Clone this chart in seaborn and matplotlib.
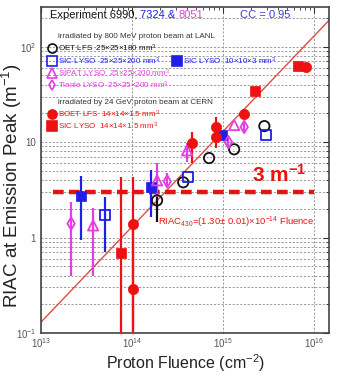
import matplotlib
matplotlib.use("Agg")
import matplotlib.pyplot as plt
import seaborn as sns
import numpy as np
from matplotlib.ticker import FixedLocator, FixedFormatter, NullFormatter

# ---- LANL, 800 MeV protons ----
oet_lfs_x = [1.88e14, 3.64e14, 7.0e14, 1.32e15, 2.83e15]
oet_lfs_y = [2.45, 3.79, 6.8, 8.4, 14.7]
oet_lfs_lo = [1.0, 0, 0, 0, 0]
oet_lfs_hi = [1.0, 0, 0, 0, 0]

sic_big_x = [5.05e13, 4.12e14, 2.97e15]
sic_big_y = [1.71, 4.28, 11.9]
sic_big_lo = [1.0, 0, 0]
sic_big_hi = [0.95, 0, 0]

sic_thin_x = [2.75e13, 1.62e14, 9.75e14]
sic_thin_y = [2.70, 3.36, 11.9]
sic_thin_lo = [1.75, 1.7, 0]
sic_thin_hi = [1.75, 1.7, 0]

sipat_x = [3.73e13, 1.88e14, 4.02e14, 1.32e15]
sipat_y = [1.34, 3.98, 8.2, 15.1]
sipat_lo = [0.94, 1.34, 2.05, 0]
sipat_hi = [0.68, 2.0, 1.55, 0]

tianle_x = [2.14e13, 2.43e14, 1.14e15, 1.70e15]
tianle_y = [1.40, 3.88, 10.0, 14.4]
tianle_lo = [1.0, 0.52, 1.0, 1.5]
tianle_hi = [0.94, 0.84, 1.2, 1.5]

# ---- CERN, 24 GeV protons ----
boet_x = [1.03e14, 1.03e14, 4.56e14, 8.4e14, 8.4e14, 1.70e15, 8.2e15]
boet_y = [0.29, 1.40, 9.8, 14.4, 11.3, 19.7, 61.6]
boet_lo = [0.29, 1.40, 3.8, 3.0, 2.65, 2.0, 0]
boet_hi = [1.0, 2.9, 2.9, 3.9, 0, 2.6, 0]

sic_cern_x = [7.57e13, 2.25e15, 6.67e15]
sic_cern_y = [0.695, 34.4, 63.0]
sic_cern_lo = [0.695, 0, 0]
sic_cern_hi = [3.6, 0, 0]

# fit RIAC_430 = slope x fluence, and the 3 m^-1 reference level
fit_slope = 1.30e-14
threshold = 3.0

RED = "#ee1111"
BLUE = "#1f1fe6"
MAG = "#e53de5"
BLACK = "#111111"

sns.set_style("white")
plt.rcParams["font.family"] = ["Liberation Sans", "DejaVu Sans"]
plt.rcParams["mathtext.fontset"] = "custom"
plt.rcParams["mathtext.rm"] = "Liberation Sans"
plt.rcParams["mathtext.it"] = "Liberation Sans:italic"
plt.rcParams["mathtext.bf"] = "Liberation Sans:bold"

fig = plt.figure(figsize=(3.6, 3.75), dpi=100)
ax = fig.add_axes([41 / 360, 1 - 333 / 375, 288 / 360, 326 / 375])
ax.set_xscale("log")
ax.set_yscale("log")
XMIN, XMAX = 1e13, 1.45e16
YMIN, YMAX = 0.1, 260

# grid: y major + minor, x major only
ax.grid(which="major", axis="both", color="#8a8a8a", lw=0.6, ls=(0, (2.5, 2)))
ax.grid(which="minor", axis="y", color="#8a8a8a", lw=0.6, ls=(0, (2.5, 2)))
ax.set_axisbelow(True)

# linear fit
fx = np.array([XMIN, XMAX])
sns.lineplot(x=fx, y=fit_slope * fx, ax=ax, color="#e44a44", lw=1.0, zorder=2)

# 3 m^-1 level
ax.plot([1.35e13, 1.0e16], [threshold, threshold], color=RED, lw=3.2,
        ls=(0, (2.4, 1.2)), zorder=3, solid_capstyle="butt")

series = [
    (oet_lfs_x, oet_lfs_y, oet_lfs_lo, oet_lfs_hi, "o", BLACK, False),
    (sic_big_x, sic_big_y, sic_big_lo, sic_big_hi, "s", BLUE, False),
    (sic_thin_x, sic_thin_y, sic_thin_lo, sic_thin_hi, "s", BLUE, True),
    (sipat_x, sipat_y, sipat_lo, sipat_hi, "^", MAG, False),
    (tianle_x, tianle_y, tianle_lo, tianle_hi, "d", MAG, False),
    (boet_x, boet_y, boet_lo, boet_hi, "o", RED, True),
    (sic_cern_x, sic_cern_y, sic_cern_lo, sic_cern_hi, "s", RED, True),
]

for xs, ys, lo, hi, mk, col, filled in series:
    ax.errorbar(xs, ys, yerr=[lo, hi], fmt="none", ecolor=col, elinewidth=1.6,
                capsize=0, zorder=4)
for xs, ys, lo, hi, mk, col, filled in series:
    size = 55 if mk != "d" else 40
    if filled:
        sns.scatterplot(x=xs, y=ys, ax=ax, marker=mk, s=size, color=col,
                        edgecolor=col, linewidth=0.5, zorder=5)
    else:
        sns.scatterplot(x=xs, y=ys, ax=ax, marker=mk, s=size, color=col,
                        facecolor="none", edgecolor=col, linewidth=1.3, zorder=5)

ax.set_xlim(XMIN, XMAX)
ax.set_ylim(YMIN, YMAX)

# ticks
ax.xaxis.set_major_locator(FixedLocator([1e13, 1e14, 1e15, 1e16]))
ax.xaxis.set_major_formatter(FixedFormatter([r"$10^{13}$", r"$10^{14}$", r"$10^{15}$", r"$10^{16}$"]))
ax.xaxis.set_minor_locator(FixedLocator([m * 10.0 ** e for e in (13, 14, 15) for m in range(2, 10)]))
ax.xaxis.set_minor_formatter(NullFormatter())
ax.yaxis.set_major_locator(FixedLocator([0.1, 1, 10, 100]))
ax.yaxis.set_major_formatter(FixedFormatter([r"$10^{-1}$", "1", "10", r"$10^{2}$"]))
ax.yaxis.set_minor_locator(FixedLocator([m * 10.0 ** e for e in (-1, 0, 1, 2) for m in range(2, 10)]))
ax.yaxis.set_minor_formatter(NullFormatter())
ax.tick_params(which="both", direction="in", top=True, right=True, color="#333333",
               labelsize=7, labelcolor="#555555")
ax.tick_params(which="major", length=4, width=0.8)
ax.tick_params(which="minor", length=2, width=0.6)
ax.tick_params(axis="x", pad=2)
for sp in ax.spines.values():
    sp.set_color("#444444")
    sp.set_linewidth(1.2)

# header line
t1 = ax.text(0.031, 0.975, "Experiment 6990, ", transform=ax.transAxes,
             fontsize=8, va="center", ha="left", color=BLACK)
t2 = ax.annotate("7324 & ", xy=(1, 0), xycoords=t1, va="bottom", ha="left",
                 fontsize=8, color=BLUE)
t3 = ax.annotate("8051", xy=(1, 0), xycoords=t2, va="bottom", ha="left",
                 fontsize=8, color=MAG)
ax.text(0.691, 0.975, "CC = 0.95", transform=ax.transAxes, fontsize=8,
        va="center", ha="left", color="#3b3bdd")

# legend block
def ax_xy(px, py):
    return (px - 41) / 288, (333 - py) / 326

LEG_FS = 5.8
hx, hy = ax_xy(58, 36)
ax.text(hx, hy, "irradiated by 800 MeV proton beam at LANL", transform=ax.transAxes,
        fontsize=LEG_FS, color="#333333", va="center", ha="left")
rows = [
    (52, 48, "o", BLACK, False, "OET LFS  25×25×180 mm$^3$"),
    (52, 61, "s", BLUE, False, "SIC LYSO  25×25×200 mm$^3$"),
    (177, 61, "s", BLUE, True, "SIC LYSO  10×10×3 mm$^3$"),
    (52, 73, "^", MAG, False, "SIPAT LYSO  25×25×200 mm$^3$"),
    (52, 85, "d", MAG, False, "Tianle LYSO  25×25×200 mm$^3$"),
    (52, 114, "o", RED, True, "BOET LFS  14×14×1.5 mm$^3$"),
    (52, 126, "s", RED, True, "SIC LYSO  14×14×1.5 mm$^3$"),
]
for px, py, mk, col, filled, label in rows:
    mx, my = ax_xy(px, py)
    ax.plot([mx], [my], marker=mk, ms=6.5 if mk != "d" else 5.5, color=col,
            mfc=col if filled else "none", mew=1.2, transform=ax.transAxes,
            clip_on=False, zorder=6)
    tx, ty = ax_xy(px + 6, py)
    ax.text(tx, ty, label, transform=ax.transAxes, fontsize=LEG_FS, color=col,
            va="center", ha="left")
hx, hy = ax_xy(58, 102)
ax.text(hx, hy, "irradiated by 24 GeV proton beam at CERN", transform=ax.transAxes,
        fontsize=LEG_FS, color="#333333", va="center", ha="left")

# annotations
ax.text(0.733, 0.485, "3 m$^{\\mathbf{-1}}$", transform=ax.transAxes, fontsize=15,
        fontweight="bold", color=RED, va="center", ha="left")
ax.text(0.406, 0.34, "RIAC$_{430}$=(1.30± 0.01)×10$^{-14}$ Fluence",
        transform=ax.transAxes, fontsize=6.8, color=RED, va="center", ha="left")

fig.text(12 / 360, 1 - 186 / 375, "RIAC at Emission Peak (m$^{-1}$)", rotation=90,
         fontsize=13.5, ha="center", va="center", color="#222222")
fig.text(186 / 360, 1 - 363 / 375, "Proton Fluence (cm$^{-2}$)", fontsize=11.5,
         ha="center", va="center", color="#222222")

fig.savefig("out.png", dpi=100, facecolor="white")
